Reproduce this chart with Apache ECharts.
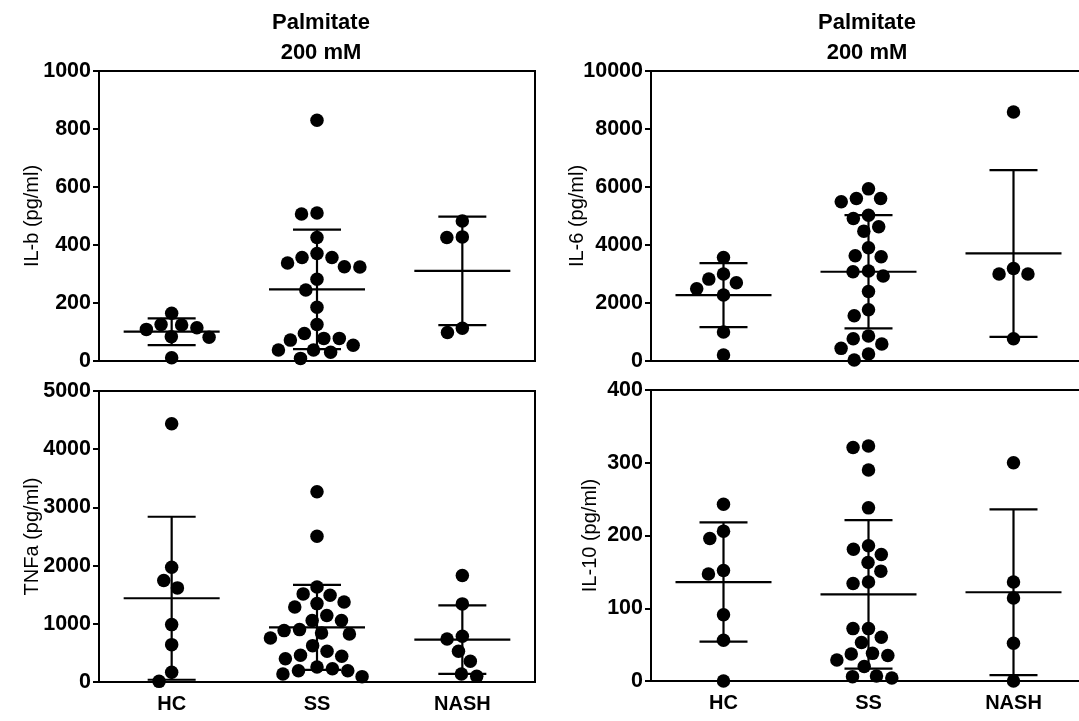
<!DOCTYPE html>
<html>
<head>
<meta charset="utf-8">
<script src="https://cdn.jsdelivr.net/npm/echarts@6/dist/echarts.min.js"></script>
<style>html,body{margin:0;padding:0;background:#fff}#c{width:1079px;height:721px}</style>
</head>
<body>
<div id="c"></div>
<script>
// ---------- data ----------
const categories = ['HC', 'SS', 'NASH'];

const ilb_HC = [165, 126, 115, 84, 82, 109, 124, 11];
const ilb_SS = [830, 507, 510, 426, 371, 357, 357, 338, 325, 324, 282, 245, 185, 126, 95, 72, 78, 78, 54, 38, 30, 38, 9];
const ilb_NASH = [483, 428, 426, 98, 113];
const ilb_mean = [101, 247, 311];
const ilb_sd = [46, 206, 187];

const il6_HC = [3571, 2698, 2997, 2824, 2491, 2273, 999, 207];
const il6_SS = [5936, 5603, 5488, 5603, 5029, 4914, 4627, 4478, 3903, 3594, 3628, 3077, 3100, 2928, 2400, 1768, 1561, 861, 769, 586, 436, 241, 34];
const il6_NASH = [8588, 2997, 2997, 3192, 769];
const il6_mean = [2273, 3077, 3708];
const il6_sd = [1102, 1952, 2876];

const tnf_HC = [4438, 1972, 1743, 1617, 986, 642, 166, 11];
const tnf_SS = [3268, 2506, 1634, 1514, 1491, 1376, 1290, 1347, 1141, 1055, 1055, 900, 843, 826, 883, 757, 625, 528, 442, 459, 401, 229, 195, 92, 138, 195, 258];
const tnf_NASH = [1829, 1342, 740, 786, 528, 356, 97, 138];
const tnf_mean = [1439, 940, 728];
const tnf_sd = [1400, 730, 590];

const il10_HC = [243, 196, 206, 152, 147, 91, 56, 0];
const il10_SS = [323, 321, 290, 238, 181, 186, 174, 163, 151, 136, 134, 72, 72, 60, 53, 38, 35, 37, 29, 20, 7, 4, 6];
const il10_NASH = [300, 136, 114, 52, 0];
const il10_mean = [136, 119, 122];
const il10_sd = [82, 102, 114];

const yTicksIlb = { min: 0, max: 1000, interval: 200 };
const yTicksIl6 = { min: 0, max: 10000, interval: 2000 };
const yTicksTnf = { min: 0, max: 5000, interval: 1000 };
const yTicksIl10 = { min: 0, max: 400, interval: 100 };

const titleText = 'Palmitate\n200 mM';

// ---------- chart ----------
const FONT = '"Liberation Sans", Arial, sans-serif';
const chart = echarts.init(document.getElementById('c'), null, { renderer: 'canvas' });

const panels = [
  { name: 'IL-b (pg/ml)', groups: [ilb_HC, ilb_SS, ilb_NASH], mean: ilb_mean, sd: ilb_sd, y: yTicksIlb, grid: { left: 99, top: 71, width: 436, height: 290 }, gap: 57, showX: false },
  { name: 'IL-6 (pg/ml)', groups: [il6_HC, il6_SS, il6_NASH], mean: il6_mean, sd: il6_sd, y: yTicksIl6, grid: { left: 651, top: 71, width: 435, height: 290 }, gap: 64, showX: false },
  { name: 'TNFa (pg/ml)', groups: [tnf_HC, tnf_SS, tnf_NASH], mean: tnf_mean, sd: tnf_sd, y: yTicksTnf, grid: { left: 99, top: 391, width: 436, height: 291 }, gap: 57, showX: true },
  { name: 'IL-10 (pg/ml)', groups: [il10_HC, il10_SS, il10_NASH], mean: il10_mean, sd: il10_sd, y: yTicksIl10, grid: { left: 651, top: 390, width: 435, height: 291 }, gap: 51, showX: true }
];

function buildOption(offsets) {
  const grid = [], xAxis = [], yAxis = [], series = [];
  panels.forEach((p, pi) => {
    grid.push(Object.assign({ show: true, borderColor: '#000', borderWidth: 2, backgroundColor: 'transparent', outerBoundsMode: 'none', containLabel: false }, p.grid));
    xAxis.push({
      type: 'category', gridIndex: pi, data: categories, boundaryGap: true,
      axisLine: { lineStyle: { color: '#000', width: 2 } },
      axisTick: { show: false },
      axisLabel: { show: p.showX, color: '#000', fontFamily: FONT, fontWeight: 'bold', fontSize: 20, margin: 12 },
      splitLine: { show: false }
    });
    yAxis.push({
      type: 'value', gridIndex: pi, min: p.y.min, max: p.y.max, interval: p.y.interval,
      name: p.name, nameLocation: 'middle', nameGap: p.gap, nameRotate: 90, nameMoveOverlap: false,
      nameTextStyle: { color: '#000', fontFamily: FONT, fontSize: 20 },
      axisLine: { show: true, lineStyle: { color: '#000', width: 2 } },
      axisTick: { show: true, inside: false, length: 6, lineStyle: { color: '#000', width: 2 } },
      axisLabel: { color: '#000', fontFamily: FONT, fontWeight: 'bold', fontSize: 21.5, margin: 8, formatter: v => String(v) },
      splitLine: { show: false }
    });
    p.groups.forEach((vals, gi) => {
      series.push({
        type: 'scatter', xAxisIndex: pi, yAxisIndex: pi, symbol: 'circle', symbolSize: 13.5,
        itemStyle: { color: '#000', opacity: 1 }, silent: true, z: 3,
        data: vals.map((v, k) => {
          const item = { value: [gi, v] };
          if (offsets) item.symbolOffset = [offsets[pi][gi][k], 0];
          return item;
        })
      });
    });
    series.push({
      type: 'custom', xAxisIndex: pi, yAxisIndex: pi, silent: true, z: 4, clip: false,
      data: p.mean.map((m, gi) => [gi, m, p.sd[gi]]),
      renderItem: function (params, api) {
        const gi = api.value(0), m = api.value(1), s = api.value(2);
        const c = api.coord([gi, m]);
        const up = api.coord([gi, m + s]);
        const lo = api.coord([gi, Math.max(m - s, p.y.min)]);
        const st = { stroke: '#000', lineWidth: 2.2 };
        return {
          type: 'group', children: [
            { type: 'line', shape: { x1: c[0] - 48, y1: c[1], x2: c[0] + 48, y2: c[1] }, style: st },
            { type: 'line', shape: { x1: c[0], y1: up[1], x2: c[0], y2: lo[1] }, style: st },
            { type: 'line', shape: { x1: c[0] - 24, y1: up[1], x2: c[0] + 24, y2: up[1] }, style: st },
            { type: 'line', shape: { x1: c[0] - 24, y1: lo[1], x2: c[0] + 24, y2: lo[1] }, style: st }
          ]
        };
      }
    });
  });
  const tStyle = { fontFamily: FONT, fontWeight: 'bold', fontSize: 22, lineHeight: 30, color: '#000' };
  return {
    animation: false,
    backgroundColor: '#fff',
    title: [
      { text: titleText, left: 316, top: 3, textAlign: 'center', textStyle: tStyle },
      { text: titleText, left: 862, top: 3, textAlign: 'center', textStyle: tStyle }
    ],
    grid, xAxis, yAxis, series
  };
}

chart.setOption(buildOption(null));

// beeswarm layout: horizontal offsets computed from pixel positions so dots do not overlap
const D = 15.5;
const offsets = panels.map((p, pi) => p.groups.map((vals) => {
  const pts = vals.map((v, k) => ({ k, y: chart.convertToPixel({ xAxisIndex: pi, yAxisIndex: pi }, [0, v])[1] }));
  const order = pts.slice().sort((a, b) => a.y - b.y);
  const placed = [];
  const out = new Array(vals.length).fill(0);
  order.forEach(pt => {
    const cands = [0];
    placed.forEach(q => {
      const dy = pt.y - q.y;
      if (Math.abs(dy) < D) {
        const w = Math.sqrt(D * D - dy * dy);
        cands.push(q.x - w, q.x + w);
      }
    });
    cands.sort((a, b) => Math.abs(a) - Math.abs(b) || a - b);
    let xx = 0;
    for (const c of cands) {
      if (placed.every(q => (c - q.x) * (c - q.x) + (pt.y - q.y) * (pt.y - q.y) >= D * D - 0.01)) { xx = c; break; }
    }
    placed.push({ x: xx, y: pt.y });
    out[pt.k] = xx;
  });
  return out;
}));

chart.setOption(buildOption(offsets));
</script>
</body>
</html>
